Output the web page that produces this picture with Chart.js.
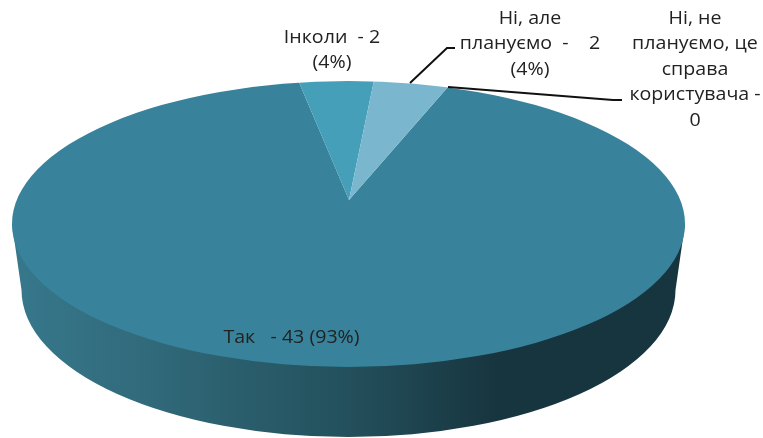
<!DOCTYPE html>
<html>
<head>
<meta charset="utf-8">
<style>
  html, body { margin: 0; padding: 0; background: #fff; }
  canvas { display: block; }
</style>
<script src="https://cdn.jsdelivr.net/npm/chart.js@4"></script>
</head>
<body>
<canvas id="myChart" width="763" height="438"></canvas>
<script>
// данные диаграммы
const categories = ['Так', 'Інколи', 'Ні, але плануємо', 'Ні, не плануємо, це справа користувача'];
const values = [43, 2, 2, 0];
const sliceColors = ['#38839b', '#459fb9', '#7ab7ce', '#9cc9da'];

// подписи как на картинке, по строкам
const labelLines = [
    ['Так   - 43 (93%)'],
    ['Інколи  - 2', '(4%)'],
    ['Ні, але', 'плануємо  -    2', '(4%)'],
    ['Ні, не', 'плануємо, це', 'справа', 'користувача -', '0']
];

// геометрия "объёмного" круга
const top3d = { x: 348.5, y: 224, rx: 336.5, ry: 143 };
const bottom3d = { x: 348.5, y: 290, rx: 327, ry: 147 };
const apex = { x: 349, y: 200 };
const labelPos = [[291.5, 338], [332, 38], [530, 19], [695, 19]];
const leaders = [
    [[410, 83], [447, 48], [455, 48]],
    [[448, 87], [613, 100], [622, 100]]
];
const textStretch = 1.12;

// боковая стенка и сжатие круга в эллипс
const pie3d = {
    id: 'pie3d',
    beforeDatasetsDraw(chart) {
        const ctx = chart.ctx;
        const arc = chart.getDatasetMeta(0).data[0];
        const g = ctx.createLinearGradient(12, 0, 685, 0);
        g.addColorStop(0, '#37788c');
        g.addColorStop(0.2, '#316a7b');
        g.addColorStop(0.5, '#23505c');
        g.addColorStop(0.72, '#17353f');
        g.addColorStop(1, '#17353f');

        ctx.save();
        ctx.fillStyle = g;
        ctx.beginPath();
        ctx.ellipse(bottom3d.x, bottom3d.y, bottom3d.rx, bottom3d.ry, 0, 0, Math.PI);
        ctx.lineTo(top3d.x - top3d.rx, top3d.y);
        ctx.lineTo(top3d.x + top3d.rx, top3d.y);
        ctx.closePath();
        ctx.fill();
        ctx.restore();

        // верхняя грань: сектора обрезаются по эллипсу
        ctx.save();
        ctx.beginPath();
        ctx.ellipse(top3d.x, top3d.y, top3d.rx, top3d.ry, 0, 0, Math.PI * 2);
        ctx.clip();
        ctx.translate(apex.x, apex.y);
        ctx.scale(top3d.rx / top3d.ry, 1);
        ctx.translate(-arc.x, -arc.y);
    },
    afterDatasetsDraw(chart) {
        chart.ctx.restore();
    },
    afterDraw(chart) {
        const ctx = chart.ctx;
        ctx.save();
        ctx.strokeStyle = '#111';
        ctx.lineWidth = 2;
        leaders.forEach(line => {
            ctx.beginPath();
            line.forEach((p, i) => i ? ctx.lineTo(p[0], p[1]) : ctx.moveTo(p[0], p[1]));
            ctx.stroke();
        });

        ctx.fillStyle = '#222';
        ctx.font = '17.5px "Open Sans"';
        ctx.textAlign = 'center';
        ctx.textBaseline = 'middle';
        labelLines.forEach((lines, i) => {
            lines.forEach((text, j) => {
                ctx.save();
                ctx.translate(labelPos[i][0], labelPos[i][1] + j * 25.5);
                ctx.scale(textStretch, 1);
                ctx.fillText(text, 0, 0);
                ctx.restore();
            });
        });
        ctx.restore();
    }
};

function drawChart() {
    const ctx = document.getElementById('myChart').getContext('2d');
    new Chart(ctx, {
        type: 'pie',
        data: {
            labels: categories,
            datasets: [{
                data: values,
                backgroundColor: sliceColors,
                borderWidth: 0
            }]
        },
        options: {
            responsive: false,
            animation: false,
            rotation: 20.4,
            plugins: {
                legend: { display: false },
                tooltip: { enabled: false }
            }
        },
        plugins: [pie3d]
    });
}

window.onload = drawChart;
</script>
</body>
</html>
